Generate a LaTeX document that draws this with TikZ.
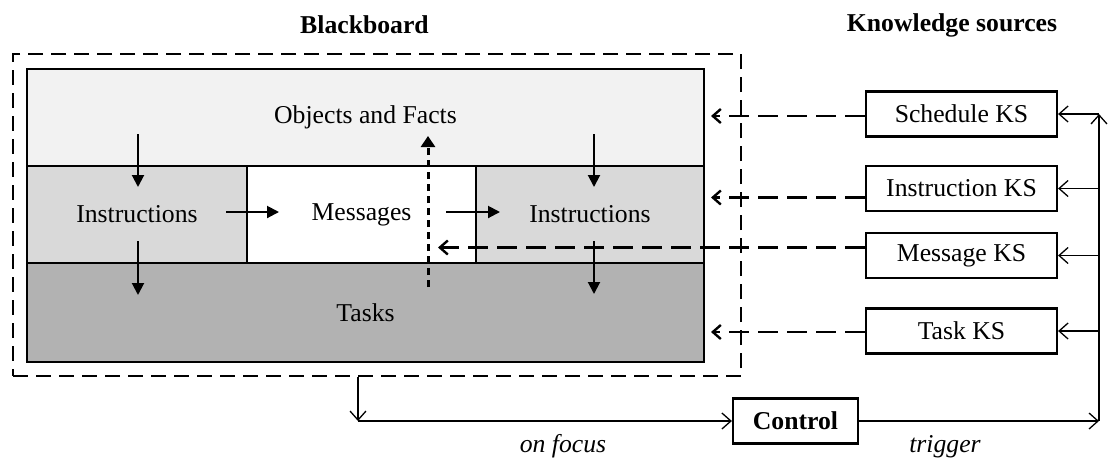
\documentclass[tikz,border=0pt]{standalone}
\usepackage{fontspec}
\setmainfont{Liberation Serif}
\usetikzlibrary{arrows.meta,positioning}
\definecolor{factsgray}{gray}{0.95}
\definecolor{instgray}{gray}{0.85}
\definecolor{taskgray}{gray}{0.70}
\begin{document}
\begin{tikzpicture}[x=0.5pt, y=-0.5pt,
  every node/.style = {font=\fontsize{12.85}{15}\selectfont},
  region/.style = {draw, line width=1pt, inner sep=0pt, minimum height=48.5pt},
  ksbox/.style = {draw, line width=1.1pt, inner sep=0pt,
    minimum width=95.5pt, minimum height=22.5pt},
  inarrow/.style = {line width=1pt, -{Triangle[length=6pt,width=6pt]}},
  dotarrow/.style = {line width=1.5pt, dash pattern=on 3.5pt off 2.5pt,
    -{Triangle[length=5.5pt,width=7pt]}},
  ksarrow/.style = {line width=1.2pt, dash pattern=on 10pt off 4.5pt,
    -{Straight Barb[length=4pt,width=7pt,line width=1.2pt]}},
  conn/.style = {line width=0.65pt, -{Straight Barb[length=4.5pt,width=8pt]}}
  ]
  \useasboundingbox (0,0) rectangle (1110,457);
  % blackboard
  \node[draw, line width=1pt, dash pattern=on 7.5pt off 4pt,
    minimum width=364pt, minimum height=161pt] (bb) at (377,215) {};
  \node (bbtitle) at (364.5,25) {\bfseries Blackboard};
  \node[region, fill=factsgray, minimum width=338.5pt] (objf) at (365.5,117.5) {Objects and Facts};
  \node[region, fill=instgray, minimum width=110pt] (instl) at (137,214.5) {Instructions};
  \node[region, fill=white, minimum width=114.5pt] (msg) at (361.5,214.5) {Messages};
  \node[region, fill=instgray, minimum width=114pt] (instr) at (590,214.5) {Instructions};
  \node[region, fill=taskgray, minimum width=338.5pt, minimum height=49.5pt] (tasks) at (365.5,312.5) {Tasks};
  % flows inside the blackboard
  \draw[inarrow] ([xshift=0.5pt,yshift=15.5pt]instl.north) -- ([xshift=0.5pt,yshift=-11pt]instl.north);
  \draw[inarrow] ([xshift=0.5pt,yshift=11.5pt]instl.south) -- ([xshift=0.5pt,yshift=-15.5pt]instl.south);
  \draw[inarrow] ([xshift=2pt,yshift=15.5pt]instr.north) -- ([xshift=2pt,yshift=-11pt]instr.north);
  \draw[inarrow] ([xshift=2pt,yshift=11.5pt]instr.south) -- ([xshift=2pt,yshift=-15pt]instr.south);
  \draw[inarrow] ([xshift=-11pt,yshift=1.25pt]instl.east) -- ([xshift=15.5pt,yshift=1.25pt]instl.east);
  \draw[inarrow] ([xshift=-15.5pt,yshift=1.25pt]msg.east) -- ([xshift=11.5pt,yshift=1.25pt]msg.east);
  \coordinate (dotbot) at (428,287);
  \coordinate (dottop) at (428,136);
  \draw[dotarrow] (dotbot) -- (dottop);
  % knowledge sources
  \node (kstitle) at (952,25) {\bfseries Knowledge sources};
  \node[ksbox] (sched) at (961.5,114) {Schedule KS};
  \node[ksbox] (instks) at (961.5,188.5) {Instruction KS};
  \node[ksbox] (msgks) at (961.5,255.5) {Message KS};
  \node[ksbox] (taskks) at (961.5,331) {Task KS};
  \coordinate (bbtip) at (711,0);
  \coordinate (msgtip) at (438,0);
  \draw[ksarrow] ([yshift=-1pt]sched.west) -- ([yshift=-1pt]sched.west -| bbtip);
  \draw[ksarrow] ([yshift=-4.5pt]instks.west) -- ([yshift=-4.5pt]instks.west -| bbtip);
  \draw[ksarrow] ([yshift=4pt]msgks.west) -- ([yshift=4pt]msgks.west -| msgtip);
  \draw[ksarrow] ([yshift=-0.5pt]taskks.west) -- ([yshift=-0.5pt]taskks.west -| bbtip);
  % control loop
  \node[draw, line width=1.1pt, minimum width=62.5pt, minimum height=22.5pt,
    inner sep=0pt] (ctrl) at (795.5,421) {\bfseries Control};
  \coordinate (drop) at (358,421);
  \coordinate (rbot) at (1099,421);
  \coordinate (rtop) at (1099,114);
  \draw[conn] (drop |- bb.south) -- (drop);
  \draw[conn] (drop) -- (ctrl.west);
  \draw[conn] (ctrl.east) -- (rbot);
  \draw[conn] (rbot) -- (rtop);
  \foreach \ks in {sched,instks,msgks,taskks}
    \draw[conn] (rtop |- \ks.east) -- (\ks.east);
  \node[anchor=base] (focus) at (563,452) {\itshape on focus};
  \node[anchor=base] (trig) at (945,452) {\itshape trigger};
\end{tikzpicture}
\end{document}
